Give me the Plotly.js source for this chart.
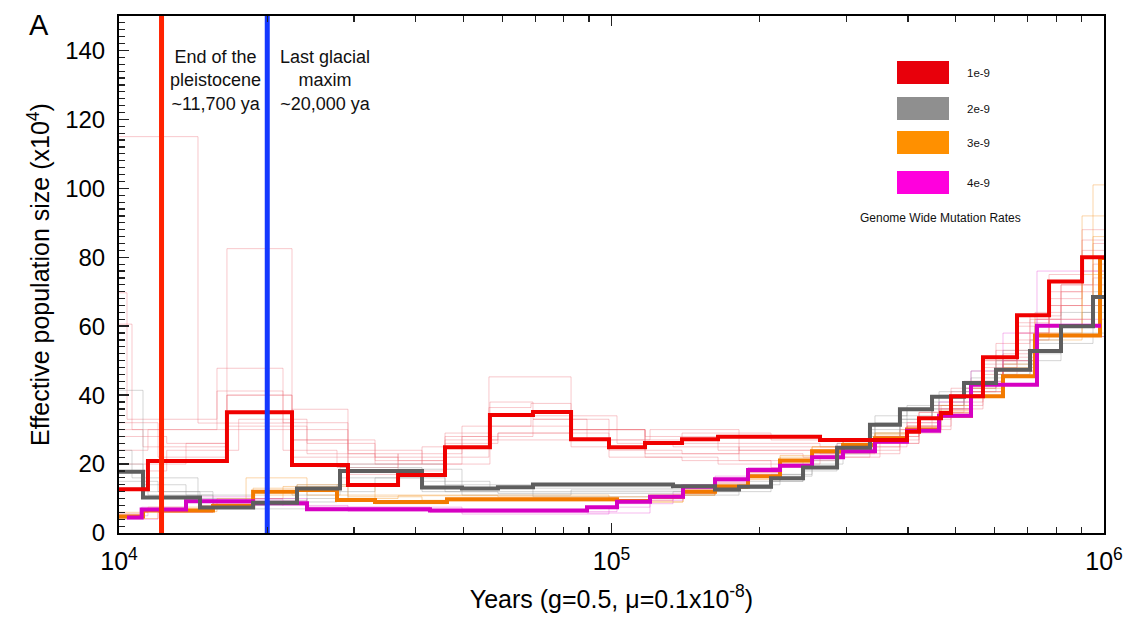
<!DOCTYPE html>
<html><head><meta charset="utf-8">
<script src="https://cdn.plot.ly/plotly-3.0.1.min.js"></script>
<style>html,body{margin:0;padding:0;background:#fff}#chart{width:1131px;height:617px}</style>
</head><body><div id="chart"></div>
<script>
// ---- main PSMC curves (years, Ne x10^4), step starts ----
const redYears = [10000, 11450, 16565, 22453, 29170, 36864, 45912, 56648, 69274, 82769, 98837, 116972, 139063, 164543, 265097, 398107, 421093, 466750, 489100, 567900, 665800, 773400, 902500, 1000000];
const redNe    = [12.7, 20.9, 35.0, 19.7, 13.9, 16.8, 24.9, 34.2, 35.1, 27.2, 24.9, 26.1, 27.2, 27.9, 27.0, 29.4, 33.3, 34.8, 39.7, 51.0, 63.2, 73.0, 80.0, 80.0];

const grayYears = [10000, 11188, 14603, 18718, 22983, 28103, 41236, 49709, 58806, 69274, 133331, 162254, 181522, 210826, 244850, 287038, 334826, 385180, 447513, 519700, 603500, 707500, 817900, 949900, 1000000];
const grayNe    = [17.8, 10.3, 7.4, 8.8, 12.9, 18.0, 13.2, 12.9, 13.3, 14.1, 13.6, 12.6, 13.4, 15.9, 19.0, 24.7, 31.4, 35.9, 39.5, 43.5, 47.4, 52.8, 60.0, 68.5, 68.5];

const orangeYears = [10000, 11188, 15516, 18718, 22983, 27712, 33100, 46344, 102606, 119738, 139714, 162254, 189322, 219876, 255378, 295204, 342750, 398107, 462400, 537000, 623600, 724200, 981500, 1000000];
const orangeNe    = [4.8, 6.5, 7.8, 12.0, 12.5, 9.6, 9.0, 9.8, 9.3, 10.5, 12.0, 13.5, 16.5, 21.0, 23.7, 25.5, 27.5, 30.0, 34.0, 39.7, 45.5, 57.3, 79.8, 79.8];

const magentaYears = [10381, 11118, 13679, 18718, 24083, 42799, 89183, 102606, 119738, 139714, 162254, 189322, 219876, 255378, 295204, 342750, 398107, 462400, 537000, 731000, 986100];
const magentaNe    = [4.5, 6.8, 9.2, 8.6, 6.9, 6.5, 7.5, 9.1, 10.5, 13.4, 15.6, 18.3, 19.5, 22.0, 23.7, 26.5, 29.7, 34.0, 43.0, 60.1, 60.1];

// ---- bootstrap replicates ----
const redBootYears = [
  [10000, 14467, 22453, 29170, 45912, 56384, 82769, 116972, 164543, 287038, 421093, 489100, 567900, 665800, 773400, 902500, 1000000],
  [10000, 10627, 16565, 22453, 36864, 45912, 56384, 68630, 82769, 116972, 164543, 265097, 398107, 466750, 567900, 665800, 773400, 902500, 1000000],
  [10000, 10381, 15810, 21528, 29170, 41236, 56648, 82769, 98837, 139063, 210826, 350850, 421093, 519700, 603500, 707500, 817900, 949900, 1000000],
  [10000, 12000, 16565, 22453, 33100, 45912, 56648, 69274, 98837, 139063, 244850, 334826, 421093, 489100, 567900, 665800, 773400, 902500, 1000000],
  [10000, 11450, 15810, 21528, 27712, 36864, 49709, 68630, 102606, 133331, 181522, 287038, 385180, 466750, 537000, 623600, 724200, 817900, 1000000],
  [10000, 13679, 16565, 22453, 29170, 41236, 56648, 82769, 116972, 164543, 265097, 350850, 421093, 489100, 567900, 665800, 773400, 902500, 1000000],
  [10000, 12500, 16565, 24083, 33100, 45912, 58806, 82769, 116972, 181522, 287038, 385180, 466750, 537000, 623600, 724200, 817900, 949900, 1000000],
  [10000, 11188, 16565, 22453, 29170, 36864, 45912, 58806, 82769, 98837, 139063, 210826, 287038, 385180, 447513, 519700, 603500, 707500, 817900, 949900, 1000000],
  [10000, 12500, 17500, 24083, 33100, 49709, 69274, 89183, 119738, 181522, 265097, 342750, 421093, 489100, 567900, 665800, 773400, 1000000]
];
const redBootNe = [
  [115, 31.9, 35.9, 17, 22, 45.3, 30, 26, 24, 26, 31, 38, 48, 60, 70, 85, 85],
  [60.6, 30, 82.5, 22, 18, 28, 36.4, 37.6, 30, 28, 26, 25, 30, 37, 49, 61, 75, 88, 88],
  [69.7, 33, 47.8, 32, 20, 25, 31, 29, 27, 29, 27, 28, 35, 42, 53, 62, 72, 78, 78],
  [32, 22, 40, 27, 22, 29, 38, 33, 24, 23, 22, 26, 30, 36, 46, 56, 66, 76, 76],
  [24, 30, 41.2, 24, 19, 23, 31, 34, 26, 25, 21, 24, 29, 35, 44, 52, 64, 72, 72],
  [20, 26, 40, 30, 24, 20, 27, 30, 22, 20, 22, 27, 33, 41, 50, 58, 68, 82, 82],
  [28, 26, 31, 26, 21, 27, 29, 30, 23, 25, 25, 30, 36, 43, 51, 58, 66, 74, 74],
  [30, 25, 30, 27, 23, 21, 26, 29, 25, 22, 21, 19, 23, 30, 37, 44, 55, 63, 70, 84, 84],
  [18, 24, 33, 23, 20, 28, 33, 27, 30, 24, 23, 28, 35, 42, 50, 58, 66, 66]
];
const grayBootYears = [
  [10000, 11188, 14603, 18718, 22983, 28103, 41236, 58806, 133331, 181522, 210826, 244850, 287038, 334826, 385180, 447513, 519700, 603500, 707500, 817900, 1000000],
  [10000, 11188, 13679, 18718, 24083, 29170, 45912, 69274, 139063, 181522, 210826, 244850, 287038, 334826, 385180, 447513, 519700, 603500, 707500, 817900, 949900, 1000000],
  [10000, 12000, 15516, 21528, 27712, 36864, 49709, 82769, 139063, 189322, 219876, 255378, 295204, 342750, 398107, 462400, 537000, 623600, 724200, 949900, 1000000],
  [10000, 10627, 14467, 18718, 22453, 28103, 41236, 56648, 133331, 189322, 219876, 255378, 295204, 342750, 398107, 462400, 537000, 623600, 724200, 902500, 1000000],
  [10000, 11450, 15516, 20000, 24083, 33100, 45912, 69274, 119738, 162254, 210826, 244850, 287038, 334826, 385180, 447513, 519700, 603500, 707500, 817900, 1000000]
];
const grayBootNe = [
  [41.4, 12, 9, 10, 14, 16, 12, 11.5, 12, 14, 17, 21, 26, 30, 34, 37, 42, 46, 52, 58, 58],
  [20, 14, 11, 7, 10, 20, 14, 12, 11, 13, 15, 18, 23, 28, 33, 38, 44, 50, 56, 64, 70, 70],
  [15, 12, 8, 9, 14, 18.5, 11, 12.5, 13, 14, 16.5, 20, 26, 32, 36, 40, 45, 49, 55, 66, 66],
  [24, 16, 10, 12, 11, 19, 15, 13, 14, 15, 17, 22, 27, 34, 37, 41, 47, 53, 60, 64, 64],
  [13, 11, 8, 9.5, 12, 16, 12, 10.5, 11, 12, 15, 19, 24, 29, 33, 36, 41, 46, 50, 57, 57]
];
const orangeBootYears = [
  [10000, 11188, 15516, 18112, 24083, 33100, 46344, 102606, 139714, 162254, 189322, 219876, 255378, 295204, 342750, 398107, 462400, 537000, 623600, 724200, 949900, 1000000],
  [10000, 12000, 15516, 18718, 27712, 36864, 58806, 119738, 139714, 162254, 189322, 219876, 255378, 295204, 342750, 398107, 462400, 537000, 623600, 724200, 902500, 1000000],
  [10000, 11450, 14603, 18718, 22983, 33100, 49709, 98837, 133331, 162254, 189322, 219876, 255378, 295204, 342750, 398107, 462400, 537000, 623600, 724200, 949900, 1000000],
  [10000, 11188, 15810, 21528, 29170, 41236, 102606, 139714, 162254, 189322, 219876, 255378, 295204, 342750, 398107, 462400, 537000, 623600, 724200, 902500, 1000000]
];
const orangeBootNe = [
  [5.5, 7, 9, 16, 11, 8.5, 9.3, 9, 11.5, 14, 17.5, 22, 25, 27, 29, 32, 37, 43, 50, 62, 101, 101],
  [4.2, 6, 8.5, 13, 10, 10.8, 10.5, 10, 12.5, 14.5, 18, 22.5, 25, 26.5, 29, 31, 36, 41, 47, 56, 92, 92],
  [6, 7.5, 8, 11, 14, 11, 11, 9.5, 11, 13, 15.5, 20, 24, 26, 28.5, 31, 35, 41, 48, 60, 86, 86],
  [5, 6.2, 10, 13.5, 10.5, 9.5, 9.0, 11, 13, 16, 20.5, 23, 25, 28, 30.5, 35.5, 42, 49, 58, 75, 75]
];
const magentaBootYears = [
  [10000, 11118, 13679, 18718, 24083, 42799, 89183, 119738, 139714, 162254, 189322, 219876, 255378, 295204, 342750, 398107, 462400, 537000, 623600, 731000, 1000000],
  [10000, 12000, 15516, 18718, 24083, 49709, 98837, 119738, 139714, 162254, 189322, 219876, 255378, 295204, 342750, 398107, 462400, 537000, 731000, 1000000],
  [10000, 11450, 13679, 21528, 29170, 56648, 102606, 133331, 162254, 189322, 219876, 255378, 295204, 342750, 398107, 462400, 537000, 623600, 731000, 1000000]
];
const magentaBootNe = [
  [5.5, 7.5, 10.5, 9.3, 7.5, 6, 5.8, 9.5, 12.5, 15, 17.5, 20, 23, 25, 28, 31, 36, 44, 58, 76, 76],
  [4, 6, 8.5, 10, 7.5, 5.5, 7.5, 10, 14, 16.5, 19, 21, 23.5, 25.5, 28, 32, 38, 47, 62, 62],
  [5, 7, 9.8, 8, 6.3, 6.2, 8.5, 11.5, 14.5, 17, 19.5, 22.5, 24.5, 27, 30, 34, 41, 50, 57, 57]
];

// ---- reference events ----
const eventYears = [12200, 20000];
const eventLabels = ["End of the<br>pleistocene<br>~11,700 ya", "Last glacial<br>maxim<br>~20,000 ya"];
const legendLabels = ["1e-9", "2e-9", "3e-9", "4e-9"];
const legendTitle = "Genome Wide Mutation Rates";
const xTickVals = [10000, 100000, 1000000];
const xTickText = ["10<sup>4</sup>", "10<sup>5</sup>", "10<sup>6</sup>"];
const xMinorVals = [20000,30000,40000,50000,60000,70000,80000,90000,200000,300000,400000,500000,600000,700000,800000,900000];

const traces = [];
function step(x, y, color, width) {
  traces.push({x: x, y: y, type: 'scatter', mode: 'lines', line: {shape: 'hv', color: color, width: width}, hoverinfo: 'skip', showlegend: false});
}
redBootYears.forEach((x, i) => step(x, redBootNe[i], 'rgba(236,110,120,0.38)', 1));
grayBootYears.forEach((x, i) => step(x, grayBootNe[i], 'rgba(150,150,150,0.4)', 1));
orangeBootYears.forEach((x, i) => step(x, orangeBootNe[i], 'rgba(245,150,40,0.4)', 1));
magentaBootYears.forEach((x, i) => step(x, magentaBootNe[i], 'rgba(230,60,210,0.35)', 1));
step(orangeYears, orangeNe, '#f27a00', 4);
step(magentaYears, magentaNe, '#d600c2', 4);
step(grayYears, grayNe, '#5e5e5e', 4);
step(redYears, redNe, '#f00000', 4);
const evColors = ['#ff2200', '#1438ff'];
eventYears.forEach((yr, i) => traces.push({x: [yr, yr], y: [0, 150], type: 'scatter', mode: 'lines', line: {color: evColors[i], width: 5}, hoverinfo: 'skip', showlegend: false}));

const L = 119, R = 1104, T = 16, B = 533;
const px = v => (v - L) / (R - L);
const py = v => (B - v) / (B - T);

const legendColors = ['#e8000b', '#8f8f8f', '#ff9000', '#ff00dd'];
const legendTops = [61, 97, 131, 171];
const shapes = legendTops.map((t, i) => ({type: 'rect', xref: 'paper', yref: 'paper', x0: px(897), x1: px(949), y0: py(t), y1: py(t + 23), fillcolor: legendColors[i], line: {width: 0}}));

const annotations = [
  {text: 'A', xref: 'paper', yref: 'paper', x: px(39), y: py(25), showarrow: false, xanchor: 'center', yanchor: 'middle', font: {size: 29, color: '#000'}},
  {text: eventLabels[0], xref: 'paper', yref: 'paper', x: px(215), y: py(80), showarrow: false, xanchor: 'center', yanchor: 'middle', font: {size: 18, color: '#111'}},
  {text: eventLabels[1], xref: 'paper', yref: 'paper', x: px(325), y: py(80), showarrow: false, xanchor: 'center', yanchor: 'middle', font: {size: 18, color: '#111'}},
  {text: legendTitle, xref: 'paper', yref: 'paper', x: px(940), y: py(218), showarrow: false, xanchor: 'center', yanchor: 'middle', font: {size: 12, color: '#111'}}
];
legendTops.forEach((t, i) => annotations.push({text: legendLabels[i], xref: 'paper', yref: 'paper', x: px(965), y: py(t + 12), showarrow: false, xanchor: 'left', yanchor: 'middle', font: {size: 11.5, color: '#111'}}));

const layout = {
  width: 1131, height: 617,
  margin: {l: L, r: 1131 - R, t: T, b: 617 - B},
  paper_bgcolor: '#fff', plot_bgcolor: '#fff',
  font: {family: 'Liberation Sans, Arial, sans-serif', color: '#000'},
  showlegend: false,
  xaxis: {
    type: 'log', range: [4, 6], showgrid: false, zeroline: false,
    showline: true, linecolor: '#000', linewidth: 2, mirror: 'ticks',
    ticks: 'inside', ticklen: 10, tickwidth: 1.5, tickcolor: '#222',
    tickmode: 'array', tickvals: xTickVals, ticktext: xTickText,
    tickfont: {size: 25}, ticklabelstandoff: 5,
    minor: {tickmode: 'array', tickvals: xMinorVals, ticks: 'inside', ticklen: 6, tickwidth: 1.2, tickcolor: '#222'},
    title: {text: 'Years (g=0.5, \u03bc=0.1x10<sup>-8</sup>)', font: {size: 25}, standoff: 16}
  },
  yaxis: {
    range: [0, 150], showgrid: false, zeroline: false,
    showline: true, linecolor: '#000', linewidth: 2, mirror: true,
    ticks: 'inside', ticklen: 10, tickwidth: 1.5, tickcolor: '#222',
    tick0: 0, dtick: 20, tickfont: {size: 24}, ticklabelstandoff: 7,
    minor: {dtick: 2, ticks: 'inside', ticklen: 6, tickwidth: 1.2, tickcolor: '#222'},
    title: {text: 'Effective population size (x10<sup>4</sup>)', font: {size: 25}, standoff: 8}
  },
  shapes: shapes,
  annotations: annotations
};
Plotly.newPlot('chart', traces, layout, {staticPlot: true, displayModeBar: false});
</script></body></html>
